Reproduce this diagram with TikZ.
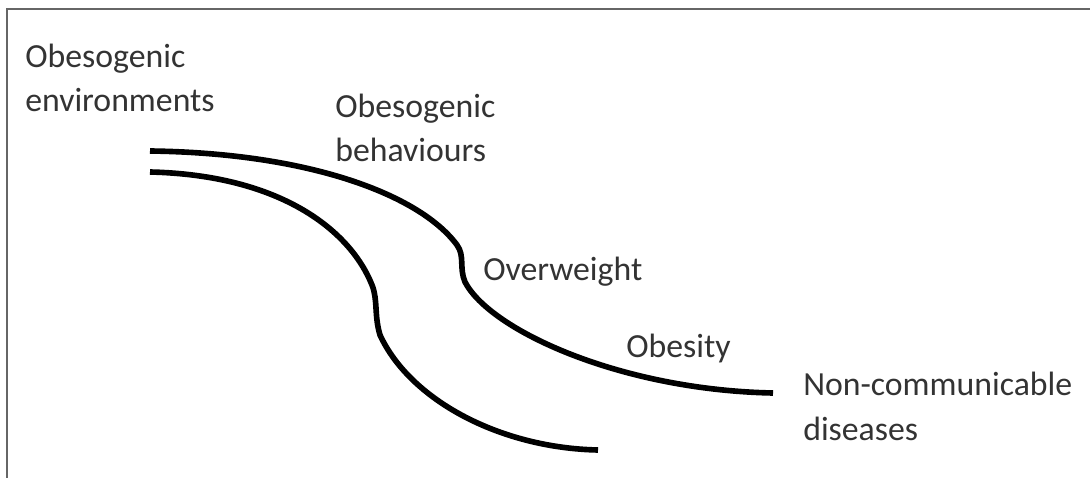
\documentclass[tikz,border=0pt]{standalone}
\usepackage{fontspec}
\setmainfont{Carlito}
\usepackage{tikz}

\begin{document}
\begin{tikzpicture}[x=0.025cm, y=-0.025cm,
    lbl/.style = {anchor=base west, align=left, text=black!80,
                  font=\fontsize{24}{32}\selectfont, inner sep=0pt},
    band/.style = {line width=4pt}]
    \useasboundingbox (0,0) rectangle (1090,478);
    % frame
    \draw[color=black!60, line width=1.5pt] (1090,9) -- (7,9) -- (7,478);

    % base anchor sits on the last line
    \node[lbl] (env) at (25,112) {Obesogenic\\environments};
    \node[lbl] (beh) at (335,162) {Obesogenic\\behaviours};
    \node[lbl] (ovw) at (483,280) {Overweight};
    \node[lbl] (obs) at (626,357) {Obesity};
    \node[lbl] (ncd) at (803,440) {Non-communicable\\diseases};

    % upper line
    \draw[band] (150,151) .. controls (310,153) and (420,195) .. (457,245)
        .. controls (465,256) and (459,268) .. (465,282)
        .. controls (490,330) and (620,390) .. (773,393);
    % lower line
    \draw[band] (150,172) .. controls (280,175) and (350,230) .. (372,285)
        .. controls (378,300) and (374,315) .. (380,335)
        .. controls (410,400) and (500,448) .. (598,450);
\end{tikzpicture}
\end{document}
